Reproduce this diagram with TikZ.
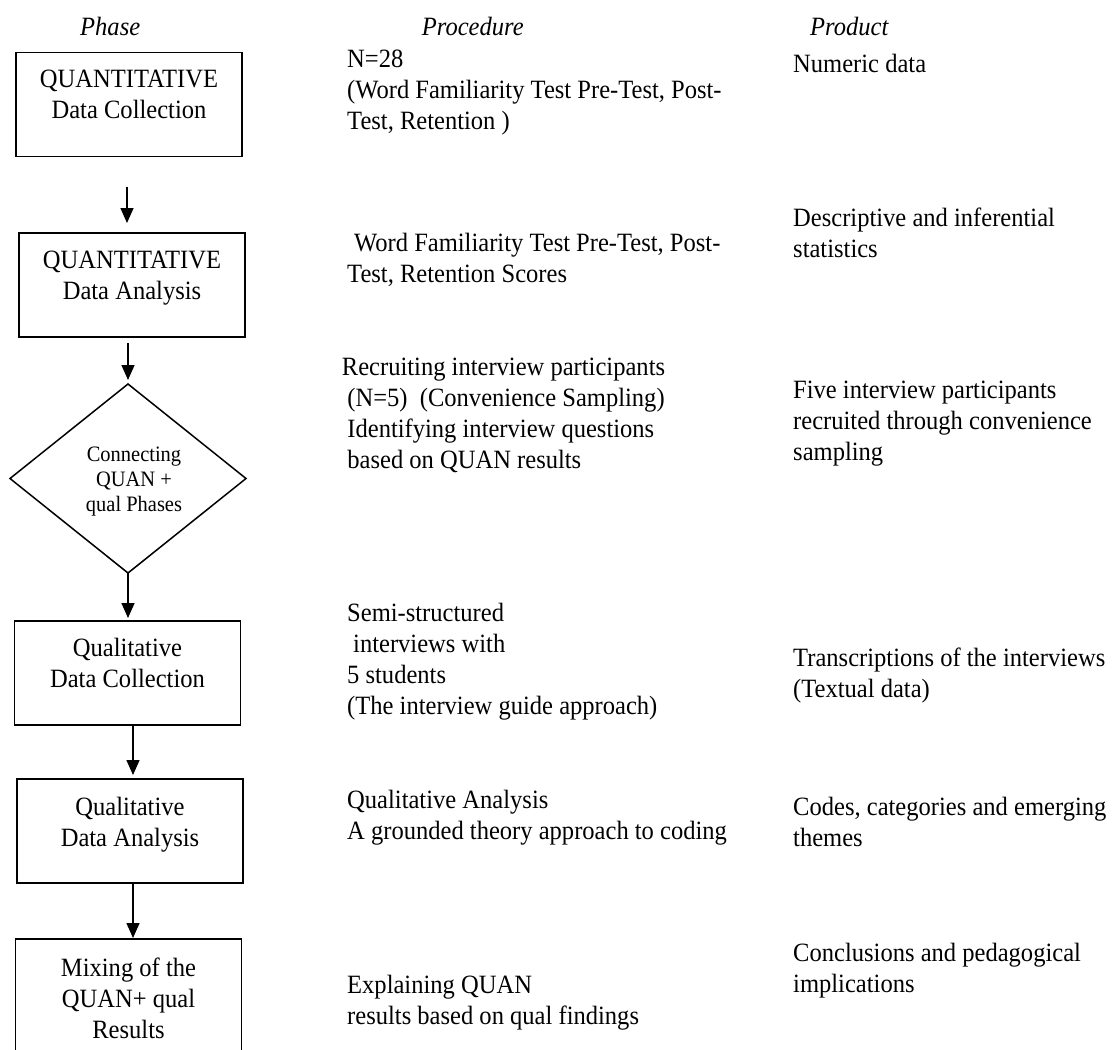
\documentclass[tikz,border=0pt]{standalone}
\usepackage{fontspec}
\setmainfont{Liberation Serif}[FakeStretch=0.93]
\usetikzlibrary{shapes.geometric,arrows.meta}
\newcommand\fsmain{\fontsize{26.4}{31}\selectfont}
\newcommand\fsdia{\fontsize{22}{25}\selectfont}
\begin{document}
\begin{tikzpicture}[x=1pt,y=-1pt,
  phasebox/.style={draw, line width=1.5pt, rectangle, minimum width=226pt, minimum height=104pt, inner sep=0pt, outer sep=0pt},
  decision/.style={draw, line width=1.5pt, diamond, minimum width=236pt, minimum height=189pt, inner sep=0pt, outer sep=0pt},
  boxtxt/.style={anchor=north, inner sep=0pt, align=center, font=\fsmain},
  diatxt/.style={inner sep=0pt, align=center, font=\fsdia},
  coltxt/.style={anchor=north west, inner sep=0pt, align=left, font=\fsmain},
  head/.style={anchor=base west, inner sep=0pt, font=\fsmain\itshape},
  arr/.style={line width=1.5pt, -{Triangle[length=15pt,width=13pt]}}
]
\useasboundingbox (0,0) rectangle (1117,1050);
\fill[white] (0,0) rectangle (1117,1050);
\clip (0,0) rectangle (1117,1050);

% headers
\node[head] (hphase) at (80,35) {Phase};
\node[head] (hproc) at (421.7,35) {Procedure};
\node[head] (hprod) at (810,35) {Product};

% phase boxes
\node[phasebox] (b1) at (129,104.5) {};
\node[phasebox] (b2) at (132,285) {};
\node[decision] (d) at (128,478.5) {};
\node[phasebox] (b3) at (127.5,673) {};
\node[phasebox] (b4) at (130,831) {};
\node[phasebox, minimum height=121pt] (b5) at (128.5,999.5) {};

\node[boxtxt] (t1) at ([yshift=-13.3]b1.north) {\strut QUANTITATIVE\\Data Collection};
\node[boxtxt] (t2) at ([yshift=-13.3]b2.north) {\strut QUANTITATIVE\\Data Analysis};
\node[diatxt] (td) at ([xshift=6,yshift=-3]d.center) {Connecting\\QUAN +\\qual Phases};
\node[boxtxt] (t3) at ([yshift=-14]b3.north) {\strut Qualitative\\Data Collection};
\node[boxtxt] (t4) at ([yshift=-14.5]b4.north) {\strut Qualitative\\Data Analysis};
\node[boxtxt] (t5) at ([yshift=-15.5]b5.north) {\strut Mixing of the\\QUAN+ qual\\Results};

% arrows
\draw[arr, shorten <=30pt, shorten >=10pt] ([xshift=-2]b1.south) -- ([xshift=-5]b2.north);
\draw[arr, shorten <=6pt, shorten >=4pt] ([xshift=-4]b2.south) -- (d.north);
\draw[arr, shorten >=3pt] (d.south) -- ([xshift=0.5]b3.north);
\draw[arr, shorten >=4pt] ([xshift=5.5]b3.south) -- ([xshift=3]b4.north);
\draw[arr, shorten >=1pt] ([xshift=3]b4.south) -- ([xshift=4.5]b5.north);

% procedure column
\node[coltxt] (p1) at (347,45.3) {\strut N=28\\(Word Familiarity Test Pre-Test, Post-\\Test, Retention )};
\node[coltxt] (p2) at (347,230) {\strut\hspace*{7pt}Word Familiarity Test Pre-Test, Post-\\Test, Retention Scores};
\node[coltxt] (p3) at (341.7,353.3) {\strut Recruiting interview participants\\\hspace*{5.5pt}(N=5)\ \ (Convenience Sampling)\\\hspace*{5.5pt}Identifying interview questions\\\hspace*{5.5pt}based on QUAN results};
\node[coltxt] (p4) at (347,600) {\strut Semi-structured\\\hspace*{6pt}interviews with\\5 students\\(The interview guide approach)};
\node[coltxt] (p5) at (347,786.6) {\strut Qualitative Analysis\\A grounded theory approach to coding};
\node[coltxt] (p6) at (347,971.6) {\strut Explaining QUAN\\results based on qual findings};

% product column
\node[coltxt] (r1) at (793,50.3) {\strut Numeric data};
\node[coltxt] (r2) at (793,205) {\strut Descriptive and inferential\\statistics};
\node[coltxt] (r3) at (793,376.6) {\strut Five interview participants\\recruited through convenience\\sampling};
\node[coltxt] (r4) at (793,645) {\strut Transcriptions of the interviews\\(Textual data)};
\node[coltxt] (r5) at (793,793.3) {\strut Codes, categories and emerging\\themes};
\node[coltxt] (r6) at (793,940) {\strut Conclusions and pedagogical\\implications};
\end{tikzpicture}
\end{document}
